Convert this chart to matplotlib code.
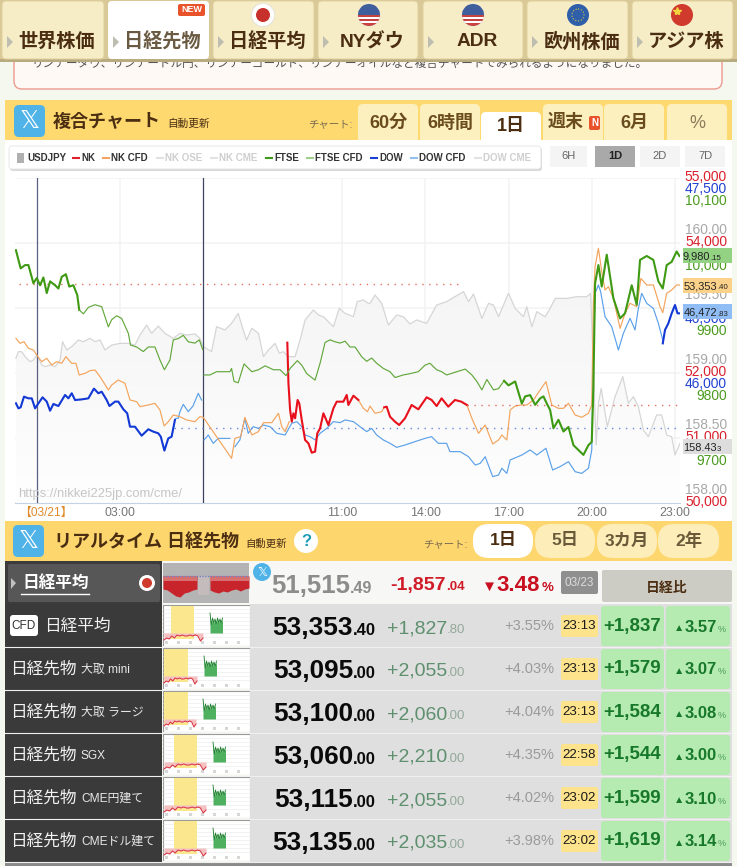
# plot.py - composite market chart page (nikkei futures)

import numpy as np
import matplotlib
matplotlib.use("Agg")
import matplotlib.pyplot as plt
from matplotlib.patches import FancyBboxPatch, Rectangle, Circle, Polygon
from matplotlib.colors import LinearSegmentedColormap

plt.rcParams['font.family'] = ['Liberation Sans', 'Noto Sans CJK JP', 'DejaVu Sans']

W, H = 737, 866

# %%
# chart data, x is hours on the 03/21 session axis
usd_h = [-.75,-.66,-.54,-.42,-.24,-.12,0,.18,.30,.48,.66,.84,.93,1.08,1.26,1.50,1.68,1.92,2.10,2.28,2.46,2.70,3.0,3.30,3.54,3.72,3.96,4.14,4.38,4.62,4.92,5.16,5.40,5.70,5.88,6.0,6.30,6.48,6.78,7.02,7.26,7.44,7.56,7.75,7.99,8.17,8.35,8.59,8.74,8.89,9.07,9.31,9.49,9.67,9.97,10.15,10.33,10.69,10.90,11.11,11.41,11.55,11.77,11.95,12.01,12.19,12.43,12.67,12.97,13.21,13.45,13.69,14.05,14.41,14.77,15.07,15.38,15.56,15.74,16.04,16.28,16.46,16.64,17.0,17.24,17.54,17.66,17.84,18.02,18.32,18.50,18.68,19.10,19.46,19.82,19.96,20.06,20.16,20.24,20.34,20.56,20.84,21.12,21.32,21.50,21.68,21.86,22.04,22.34,22.52,22.70,22.88,23.0,23.18]
usd_v = [159.113,159.164,159.164,159.126,159.087,159.10,159.138,159.062,159.049,159.062,159.049,159.10,159.241,159.177,159.203,159.254,159.241,159.267,159.241,159.254,159.177,159.215,159.228,159.228,159.215,159.292,159.369,159.305,159.361,159.305,159.267,159.305,159.292,159.30,159.267,159.203,159.164,159.356,159.331,159.382,159.459,159.331,159.254,159.344,159.305,159.126,159.177,159.228,159.152,159.164,159.126,159.126,159.254,159.408,159.485,159.446,159.433,159.356,159.497,159.459,159.433,159.549,159.562,159.536,159.536,159.60,159.536,159.369,159.446,159.433,159.377,159.408,159.382,159.523,159.549,159.587,159.626,159.549,159.608,159.42,159.536,159.523,159.433,159.613,159.497,159.433,159.51,159.356,159.472,159.433,159.497,159.574,159.574,159.587,159.587,159.613,159.023,158.446,158.767,158.882,158.587,158.818,158.972,158.767,158.818,158.741,158.562,158.51,158.677,158.677,158.523,158.51,158.369,158.459]

ftse_a_h = [-.75,-.66,-.58,-.42,-.30,-.12,0,.12,.24,.36,.48,.66,.78,.90,1.05,1.17,1.32,1.46,1.53]
ftse_a_v = [9989,9974,9961,9966,9966,9938,9946,9935,9947,9923,9941,9935,9930,9948,9952,9933,9935,9920,9897]
ftse_b_h = [1.53,1.68,1.86,2.10,2.34,2.58,2.70,2.88,3.06,3.30,3.38,3.60,3.84,4.02,4.26,4.44,4.60,4.80,4.92,5.10,5.28,5.46,5.70,5.86,5.98]
ftse_b_v = [9897,9891,9901,9905,9902,9871,9882,9888,9884,9861,9843,9840,9833,9840,9840,9820,9805,9820,9851,9853,9858,9848,9846,9851,9836]
ftse_c_h = [6.03,6.24,6.48,6.96,7.02,7.11,7.26,7.47,7.75,7.99,8.23,8.53,8.77,8.98,9.13,9.39,9.55,9.73,10.03,10.21,10.39,10.57,10.75,10.93,11.11,11.29,11.47,11.71,11.89,12.07,12.25,12.49,12.73,12.91,13.21,13.45,13.75,13.99,14.17,14.41,14.59,14.77,15.14,15.44,15.68,15.86,16.04,16.22,16.46,16.64,16.84]
ftse_c_v = [9797,9797,9802,9802,9807,9787,9785,9814,9802,9805,9811,9805,9805,9796,9807,9819,9812,9799,9789,9815,9847,9851,9848,9846,9849,9840,9840,9825,9818,9823,9815,9807,9802,9793,9797,9799,9802,9812,9815,9805,9802,9797,9802,9806,9797,9787,9774,9790,9774,9776,9788]
ftse_d_h = [16.84,17.0,17.24,17.48,17.60,17.78,17.96,18.14,18.26,18.38,18.50,18.62,18.80,18.98,19.16,19.34,19.58,19.70,19.88,20.0,20.06,20.12,20.24,20.36,20.54,20.78,21.02,21.2,21.44,21.62,21.74,21.98,22.22,22.40,22.56,22.70,22.88,23.06,23.16]
ftse_d_v = [9788,9781,9787,9753,9764,9766,9751,9761,9764,9753,9743,9715,9728,9710,9717,9689,9679,9674,9689,9694,9779,9938,9966,9933,9982,9915,9884,9892,9935,9905,9974,9980,9974,9941,9930,9966,9971,9987,9980]

nk_cfd_a_h = [-.75,-.60,-.46,-.30,-.12,0,.18,.36,.54,.72,.90,1.05,1.26,1.41,1.53,1.74,1.92,2.10,2.28,2.58,2.70,2.94,3.18,3.36,3.60,3.72,4.02,4.26,4.44,4.59,4.74,4.92,5.16,5.40,5.70,5.88,6.0,7.02,7.14,7.35,7.50,7.75,7.99,8.17,8.47,8.71,8.83,8.95,9.10]
nk_cfd_a_v = [52533,52456,52482,52380,52354,52277,52174,52226,52123,52174,52149,52251,52149,52149,51969,51995,52036,52046,51944,51739,51815,51892,51841,51585,51559,51482,51508,51533,51431,51185,51251,51354,51328,51277,51251,51328,51318,50687,50995,51021,51318,51046,51098,51236,51236,51380,51174,51098,51251]
nk_cfd_b_h = [11.59,11.77,11.92,12.01,12.19,12.43,12.52]
nk_cfd_b_v = [51585,51456,51405,51492,51380,51405,51472]
nk_cfd_c_h = [15.5,15.68,15.92,16.16,16.43,16.64,16.76,16.94,17.06,17.24,17.48,17.66,17.90,18.14,18.35,18.56,18.80,18.98,19.16,19.40,19.64,19.88,20.0,20.06,20.12,20.24,20.36,20.48,20.60,20.78,21.02,21.2,21.38,21.62,21.77,21.98,22.22,22.46,22.56,22.70,22.88,23.06,23.18]
nk_cfd_c_v = [51508,51303,51072,51200,50908,50969,51046,50969,51431,51492,51508,51508,51585,51739,51867,51508,51456,51456,51533,51354,51318,51380,51508,53072,53636,53918,53559,53277,53328,53149,52687,52918,53072,53021,53456,53354,53354,53021,52928,53226,53277,53354,53354]

nk_a_h = [9.03,9.07,9.13,9.19,9.25,9.31,9.40,9.46,9.55,9.67,9.79,9.91,10.03,10.11,10.21,10.33,10.51,10.69,10.81,11.05,11.17,11.23,11.41,11.59]
nk_a_v = [52467,51841,51431,51251,51380,51303,51585,51533,51277,50969,50918,50774,50790,51072,51149,51380,51200,51456,51559,51559,51662,51508,51651,51585]
nk_b_h = [12.52,12.61,12.73,12.91,13.06,13.27,13.51,13.75,14.05,14.23,14.41,14.59,14.83,15.07,15.30,15.5]
nk_b_v = [51472,51482,51328,51251,51200,51303,51508,51441,51626,51585,51492,51610,51482,51585,51559,51508]

dow_a_h = [-.75,-.66,-.58,-.46,-.30,-.18,-.06,.06,.21,.36,.48,.60,.78,1.02,1.14,1.26,1.38,1.62,1.86,2.06,2.22,2.34,2.52,2.62,2.82,2.94,3.12,3.26,3.36,3.54,3.78,4.02,4.20,4.38,4.47,4.60,4.74,4.86,4.98]
dow_a_v = [45767,45728,45736,45818,45805,45805,45728,45767,45813,45780,45710,45762,45746,45831,45805,45844,45792,45797,45805,45880,45844,45856,45792,45746,45780,45780,45721,45690,45587,45587,45518,45567,45549,45536,45510,45403,45497,45510,45639]
dow_b_h = [22.56,22.64,22.76,22.88,23.0,23.09,23.18]
dow_b_v = [46228,46331,46382,46459,46523,46459,46459]
dow_cfd_a_h = [5.01,5.10,5.16,5.28,5.46,5.63,5.82,5.94]
dow_cfd_a_v = [45651,45651,45703,45759,45703,45746,45844,45792]
dow_cfd_b_h = [6.03,6.18,6.36,6.54,6.78,6.96]
dow_cfd_b_v = [45485,45523,45459,45497,45497,45497]
dow_cfd_c_h = [7.14,7.32,7.50,7.62,7.80,7.99,8.17,8.41,8.65,8.95,9.19,9.37,9.55,9.67,9.85,10.03,10.21,10.45,10.69,10.93,11.11,11.41,11.65,11.89,12.07,12.25,12.49,12.73,12.97,13.27,13.63,13.99,14.23,14.47,14.77,14.89,15.26,15.56,15.80,15.98,16.16,16.43,16.64,16.76,16.94,17.06,17.48,17.78,18.02,18.35,18.59,18.86,19.16,19.40,19.64,19.88,20.0,20.06,20.12,20.24,20.32,20.48,20.72,20.96,21.14,21.38,21.56,21.68,21.80,21.98,22.22,22.40,22.56]
dow_cfd_c_v = [45433,45485,45651,45536,45587,45574,45600,45587,45536,45523,45613,45626,45587,45523,45510,45485,45536,45574,45626,45618,45639,45626,45587,45549,45574,45523,45485,45459,45428,45446,45472,45497,45510,45459,45459,45395,45395,45356,45292,45305,45356,45203,45215,45267,45228,45331,45369,45408,45369,45421,45254,45280,45318,45241,45228,45267,45408,46126,46613,46677,46626,46433,46356,46177,46305,46421,46331,46497,46613,46536,46497,46382,46254]

nk_ref = 53374
nk_close = 51515
dow_close = 45580

usd_ticks = [158.0, 158.5, 159.0, 159.5, 160.0]
nk_ticks = [50000, 51000, 52000, 54000, 55000]
dow_ticks = [46000, 46500, 47500]
ftse_ticks = [9700, 9800, 9900, 10000, 10100]
hour_ticks = [3, 11, 14, 17, 20, 23]
hour_labels = ["03:00", "11:00", "14:00", "17:00", "20:00", "23:00"]

# table data
row_names = ["日経平均", "日経先物", "日経先物", "日経先物", "日経先物", "日経先物"]
row_subs = ["", "大取 mini", "大取 ラージ", "SGX", "CME円建て", "CMEドル建て"]
row_price = ["53,353", "53,095", "53,100", "53,060", "53,115", "53,135"]
row_price_dec = [".40", ".00", ".00", ".00", ".00", ".00"]
row_chg = ["+1,827", "+2,055", "+2,060", "+2,210", "+2,055", "+2,035"]
row_chg_dec = [".80", ".00", ".00", ".00", ".00", ".00"]
row_pct = ["+3.55%", "+4.03%", "+4.04%", "+4.35%", "+4.02%", "+3.98%"]
row_time = ["23:13", "23:13", "23:13", "22:58", "23:02", "23:02"]
row_diff = ["+1,837", "+1,579", "+1,584", "+1,544", "+1,599", "+1,619"]
row_diff_pct = ["3.57", "3.07", "3.08", "3.00", "3.10", "3.14"]

mini_red = [35, 33, 34, 31, 33, 30, 31, 30, 31, 31, 30, 31, 30, 31, 36, 33]
mini_green = [8, 20, 13, 18, 14, 19, 13, 18, 14, 18, 13]
mini_nikkei = [26, 27, 30, 33, 34, 30, 29, 27, 26]
mini_nikkei2 = [27, 29, 30, 28, 29, 27, 26, 28, 26, 25]
mini_band = [(8, 31), (1, 25), (1, 25), (11, 34), (11, 34), (11, 34)]
mini_spike = [47, 41, 40, 50, 50, 50]

# %%
fig = plt.figure(figsize=(W / 100, H / 100), dpi=100)
fig.patch.set_facecolor("#f5f8ef")

bg = fig.add_axes([0, 0, 1, 1], zorder=0)
bg.set_xlim(0, W); bg.set_ylim(H, 0); bg.axis("off")

top = fig.add_axes([0, 0, 1, 1], zorder=10)
top.set_xlim(0, W); top.set_ylim(H, 0); top.axis("off")
top.patch.set_alpha(0)

def box(x0, y0, x1, y1, fc, r=0, ec="none", lw=0, z=1, ax=None):
    ax = ax or bg
    if r:
        p = FancyBboxPatch((x0, y0), x1 - x0, y1 - y0, boxstyle=f"round,pad=0,rounding_size={r}",
                           fc=fc, ec=ec, lw=lw, zorder=z)
    else:
        p = Rectangle((x0, y0), x1 - x0, y1 - y0, fc=fc, ec=ec, lw=lw, zorder=z)
    ax.add_patch(p)
    return p

def txt(x, y, s, size, color, ha="left", va="center", weight="normal", z=3, ax=None, **kw):
    ax = ax or bg
    return ax.text(x, y, s, fontsize=size, color=color, ha=ha, va=va, fontweight=weight, zorder=z, **kw)

def num(x, y, big, dec, s1, s2, color, color2=None, weight="normal", z=3, ax=None):
    txt(x, y, big, s1, color, ha="right", va="baseline", weight=weight, z=z, ax=ax)
    txt(x, y, dec, s2, color2 or color, ha="left", va="baseline", weight=weight, z=z, ax=ax)

def x_icon(x0, y0, x1, y1):
    box(x0, y0, x1, y1, "#4fb3e8", r=5, z=4)
    txt((x0 + x1) / 2, (y0 + y1) / 2, "𝕏", 18, "white", ha="center", z=5, family="DejaVu Sans")

BROWN = "#4b2e12"

# %%
# page behind the nav
box(14, 40, 722, 89, "#fff9f6", r=8, ec="#eb9a8e", lw=1, z=1)
txt(31, 64, "リンデーダウ、リンデードル円、リンデーゴールド、リンデーオイルなど複合チャートでみられるようになりました。",
    8.4, "#555555", z=2)

# nav
box(0, 0, W, 61, "#d9c998", z=5)
box(0, 59, W, 62, "#b9ab80", z=5)
tabs = [(2, 104), (108, 209), (213, 314), (318, 418), (423, 523), (527, 628), (632, 733)]
tab_text = ["世界株価", "日経先物", "日経平均", "NYダウ", "ADR", "欧州株価", "アジア株"]
for i, (a, b) in enumerate(tabs):
    active = i == 1
    box(a, 1, b, 59, "white" if active else "#f6ecc6", r=4, ec="none" if active else "#e0d09c", lw=.7, z=6)
    bg.add_patch(Polygon([(a + 5, 36), (a + 11, 42), (a + 5, 48)], fc="#bdbdb0", ec="none", zorder=7))
    mid = (a + b) / 2 + 4
    txt(mid, 42, tab_text[i], 13.8, "#6a5a42" if active else BROWN, ha="center", weight="bold", z=7)

box(178, 4, 205, 16, "#e8532b", r=2, z=8)
txt(191.5, 10, "NEW", 6.5, "white", ha="center", weight="bold", z=9)

def flag_us(cx, cy, r=11):
    c = Circle((cx, cy), r, fc="white", ec="#ddd", lw=.5, zorder=7)
    bg.add_patch(c)
    for k in range(5):
        s = Rectangle((cx - r, cy - r + 1 + k * 4.6), 2 * r, 2.4, fc="#c8433f", zorder=8)
        bg.add_patch(s)
        s.set_clip_path(c)
    s = Rectangle((cx - r, cy - r), 2 * r, r, fc="#3f5f9c", zorder=9)
    bg.add_patch(s)
    s.set_clip_path(c)

bg.add_patch(Circle((263, 15), 11.5, fc="white", ec="#ddd", lw=.5, zorder=7))
bg.add_patch(Circle((263, 15), 7, fc="#c8302c", zorder=8))
flag_us(369, 15)
flag_us(473, 15)
bg.add_patch(Circle((578, 15), 11, fc="#2f5fa8", zorder=7))
bg.add_patch(Circle((578, 15), 6, fc="none", ec="#d8c84a", lw=.8, ls=":", zorder=8))
bg.add_patch(Circle((682, 15), 11, fc="#cf3a2c", zorder=7))
bg.plot([677], [11], marker="*", ms=6, color="#f5d33c", zorder=8)

# %%
# chart panel
box(5, 100, 732, 140, "#fdd970", z=1)
box(5, 140, 732, 521, "white", z=1)
x_icon(14, 105, 45, 137)
txt(53, 122, "複合チャート", 13, BROWN, weight="bold")
txt(167, 124, "自動更新", 7.7, BROWN)
txt(308, 124, "チャート:", 7.5, "#7a6a50")
ctabs = [(358, 418, "60分"), (420, 480, "6時間"), (481, 541, "1日"), (543, 603, "週末"), (604, 664, "6月"), (667, 727, "%")]
for a, b, s in ctabs:
    act = s == "1日"
    box(a, 112 if act else 104, b, 145, "white" if act else "#fdf0bf", r=5, z=2)
    box(a, 140, b, 146, "white", z=2)
    box(a, 132, b, 140, "white" if act else "#fdf0bf", z=2)
    if s == "週末":
        txt(548, 122, s, 13, "#6a4c1e", weight="bold")
        box(589, 116, 600, 130, "#e8532b", r=2, z=4)
        txt(594.5, 123, "N", 7, "white", ha="center", weight="bold", z=5)
    else:
        txt((a + b) / 2, 126 if act else 123, s, 13, BROWN if act else "#6a4c1e" if s != "%" else "#8a7a5a",
            ha="center", weight="bold" if s != "%" else "normal")

box(10, 148, 542, 171, "#d8d8d8", r=3, z=2)
box(9, 146, 541, 169, "white", r=3, ec="#e4e4e4", lw=.6, z=2)
box(17, 153, 24, 163, "#b0b0b0", z=3)
legend = [(27, None, "USDJPY", "#333333"), (81, "#e0202c", "NK", "#333333"), (111, "#f4a460", "NK CFD", "#333333"),
          (165, "#e2e2e2", "NK OSE", "#cfcfcf"), (219, "#e2e2e2", "NK CME", "#cfcfcf"), (274, "#3d9a18", "FTSE", "#333333"),
          (315, "#9ccf8a", "FTSE CFD", "#333333"), (379, "#1c3fd6", "DOW", "#333333"), (419, "#93c0ec", "DOW CFD", "#333333"),
          (483, "#e2e2e2", "DOW CME", "#cfcfcf")]
for x, col, s, tc in legend:
    if col:
        bg.plot([x - 9, x - 1], [158, 158], color=col, lw=1.5, zorder=3, solid_capstyle="butt")
    txt(x, 158, s, 7, tc, weight="bold")

for a, b, s in [(550, 587, "6H"), (595, 635, "1D"), (640, 680, "2D"), (685, 725, "7D")]:
    on = s == "1D"
    box(a, 146, b, 167, "#a9a9a9" if on else "#f4f4f4", z=2)
    txt((a + b) / 2, 156, s, 8, "#222222" if on else "#666666", ha="center", weight="bold" if on else "normal")

# %%
# main chart, four scales on one plot area
L, R, T, B = 15, 680, 178, 503
rect = [L / W, 1 - B / H, (R - L) / W, (B - T) / H]
h_min, h_max = 3 + (L - 120) / 27.75, 3 + (R - 120) / 27.75

ax_usd = fig.add_axes(rect, zorder=1)
ax_dow = fig.add_axes(rect, zorder=2)
ax_nk = fig.add_axes(rect, zorder=3)
ax_ftse = fig.add_axes(rect, zorder=4)
limits = {ax_usd: (158, 160.5), ax_dow: (45000, 47500), ax_nk: (50000, 55000), ax_ftse: (9600, 10100)}
for a, lim in limits.items():
    a.set_xlim(h_min, h_max)
    a.set_ylim(*lim)
    a.patch.set_alpha(0)
    if a is not ax_usd:
        a.axis("off")

ax_usd.set_xticks(hour_ticks)
ax_usd.set_xticklabels(hour_labels, fontsize=8.9, color="#777777")
ax_usd.tick_params(axis="x", length=0, pad=3)
ax_usd.set_yticks(np.arange(158, 160.6, 0.5))
ax_usd.tick_params(axis="y", length=0, labelleft=False)
ax_usd.grid(True, color="#f2f2f2", lw=1.1)
ax_usd.set_axisbelow(True)
for s, sp in ax_usd.spines.items():
    sp.set_visible(s == "bottom")
ax_usd.spines["bottom"].set_color("#c3d3e3")

# usd area with a top down gradient, clipped to the area under the line
cm = LinearSegmentedColormap.from_list("fade", ["#fefefe", "#f7f7f7", "#f2f2f2"])
poly = ax_usd.fill_between(usd_h, usd_v, 158, color="none")
grad = np.linspace(1, 0, 128).reshape(-1, 1)
im = ax_usd.imshow(grad, extent=[h_min, h_max, 158, 160.5], aspect="auto", cmap=cm, zorder=1)
im.set_clip_path(poly.get_paths()[0], transform=ax_usd.transData)
ax_usd.set_xlim(h_min, h_max); ax_usd.set_ylim(158, 160.5)
ax_usd.plot(usd_h, usd_v, color="#d6d6d6", lw=.9, zorder=2)

ax_usd.axvline(0, color="#5a6080", lw=.9, zorder=3)
ax_usd.axvline(6, color="#3e4460", lw=.9, zorder=3)

THIN, THICK = .85, 1.5
for xs, ys in [(dow_cfd_a_h, dow_cfd_a_v), (dow_cfd_b_h, dow_cfd_b_v), (dow_cfd_c_h, dow_cfd_c_v)]:
    ax_dow.plot(xs, ys, color="#5ba1ea", lw=THIN)
ax_dow.plot(dow_a_h, dow_a_v, color="#1238d6", lw=THICK)
ax_dow.plot(dow_b_h, dow_b_v, color="#1238d6", lw=THICK)
ax_dow.plot([4.95, 23.2], [dow_close, dow_close], color="#6a86dc", lw=1, ls=(0, (1, 4)))

for xs, ys in [(nk_cfd_a_h, nk_cfd_a_v), (nk_cfd_b_h, nk_cfd_b_v), (nk_cfd_c_h, nk_cfd_c_v)]:
    ax_nk.plot(xs, ys, color="#f3a45c", lw=THIN)
ax_nk.plot(nk_a_h, nk_a_v, color="#e8101c", lw=THICK)
ax_nk.plot(nk_b_h, nk_b_v, color="#e8101c", lw=THICK)
ax_nk.plot([-.65, 15.35], [nk_ref, nk_ref], color="#e2705c", lw=1, ls=(0, (1, 4)))
ax_nk.plot([15.5, 23.15], [nk_close, nk_close], color="#e2705c", lw=1, ls=(0, (1, 4)))

ax_ftse.plot(ftse_a_h, ftse_a_v, color="#3d9a12", lw=THICK)
ax_ftse.plot(ftse_b_h, ftse_b_v, color="#62a83c", lw=THIN)
ax_ftse.plot(ftse_c_h, ftse_c_v, color="#62a83c", lw=THIN)
ax_ftse.plot(ftse_d_h, ftse_d_v, color="#3d9a12", lw=THICK)

ax_usd.text(h_min + .1, 158.07, "https://nikkei225jp.com/cme/", fontsize=9.4, color="#c6c6c6", zorder=5, va="center")
ax_usd.annotate("【03/21】", xy=(0.32, 158), xytext=(0, -10), textcoords="offset pixels", fontsize=8.6,
                color="#e08a2a", ha="center", va="center", annotation_clip=False)

# right side scales, each axis sits at its own offset from the gridline
for a, ticks, fmt, col, off in [(ax_usd, usd_ticks, "{:.2f}", "#a8a8a8", 13), (ax_nk, nk_ticks, "{:,}", "#d8202c", 1),
                                (ax_dow, dow_ticks, "{:,}", "#2040d0", -11), (ax_ftse, ftse_ticks, None, "#4b9b1e", -23)]:
    for t in ticks:
        s = fmt.format(t) if fmt else (f"{t:,}" if t >= 10000 else str(t))
        a.annotate(s, xy=(1, t), xycoords=a.get_yaxis_transform(), xytext=(47, off), textcoords="offset pixels",
                   fontsize=9.9, color=col, ha="right", va="center", annotation_clip=False)

def val_y(v, lo, hi):
    return B - (v - lo) / (hi - lo) * (B - T)

badges = [(9980.15, 9600, 10100, "9,980", ".15", 710, "#93d183"), (53353.40, 50000, 55000, "53,353", ".40", 717, "#fcd28a"),
          (46472.83, 45000, 47500, "46,472", ".83", 717, "#90bdf5"), (158.433, 158, 160.5, "158.43", "3", 717, "#dddddd")]
for v, lo, hi, a, b, xe, col in badges:
    yy = val_y(v, lo, hi)
    box(683, yy - 7.5, 732, yy + 7.5, col, ax=top, z=1)
    num(xe, yy + 4, a, b, 7.9, 5.6, "#222222", ax=top, z=2)

# %%
# realtime header
box(5, 521, 732, 561, "#fdd66e", z=1)
x_icon(13, 525, 44, 557)
txt(54, 542, "リアルタイム 日経先物", 13, BROWN, weight="bold")
txt(245, 544, "自動更新", 7.5, BROWN)
bg.add_patch(Circle((306, 541), 12, fc="white", zorder=3))
txt(306, 541, "?", 12, "#1c9cb8", ha="center", weight="bold", z=4)
txt(423, 544, "チャート:", 7.5, "#7a6a50")
for a, b, s in [(473, 533, "1日"), (535, 595, "5日"), (597, 657, "3カ月"), (658, 719, "2年")]:
    box(a, 524, b, 558, "white" if s == "1日" else "#fdedb9", r=16, z=2)
    txt((a + b) / 2, 541, s, 12.5, BROWN if s == "1日" else "#6a5a3a", ha="center", weight="bold", z=3)

# %%
# table, first row
box(5, 561, 732, 604, "#f7f7f5", z=1)
box(5, 561, 162, 604, "#3c3c3c", z=2)
box(8, 564, 160, 602, "#575757", r=2, z=3)
bg.add_patch(Polygon([(11, 578), (16, 583), (11, 589)], fc="#c0c0c0", zorder=4))
txt(22, 583, "日経平均", 12, "white", weight="bold", z=4)
bg.plot([21, 89], [594, 594], color="white", lw=1, zorder=4)
bg.add_patch(Circle((147, 583), 8, fc="white", zorder=4))
bg.add_patch(Circle((147, 583), 5, fc="#cf3a2c", zorder=5))

bg.add_patch(Circle((262, 572), 9, fc="#4fb3e8", zorder=5))
txt(262, 572, "𝕏", 9, "white", ha="center", z=6, family="DejaVu Sans")
num(350, 593, "51,515", ".49", 18.5, 11.5, "#8c8c8c", weight="bold")
num(446, 590, "-1,857", ".04", 14, 9.5, "#d01c28", weight="bold")
txt(482, 591, "▼", 11, "#c81020", va="baseline", weight="bold")
txt(496, 591, "3.48", 16, "#c81020", va="baseline", weight="bold")
txt(542, 591, "%", 9.5, "#c81020", va="baseline", weight="bold")
box(561, 571, 598, 594, "#8f8f8f", r=2, z=2)
txt(579.5, 583, "03/23", 8.5, "#dcdcdc", ha="center")
box(602, 570, 732, 602, "#cdccc4", r=2, z=2)
txt(667, 588, "日経比", 10, BROWN, ha="center", weight="bold")

# thumb of row one
th = fig.add_axes([163 / W, 1 - 603 / H, 86 / W, 40 / H], zorder=5)
th.set_xlim(0, 86); th.set_ylim(40, 0); th.axis("off")
th.add_patch(Rectangle((0, 0), 86, 40, fc="#b4b4b4"))
th.add_patch(Rectangle((35, 13), 11, 19, fc="#c4bcbc"))
xs1 = np.linspace(0, 34, len(mini_nikkei))
xs2 = np.linspace(47, 86, len(mini_nikkei2))
th.fill_between(xs1, 13, mini_nikkei, color="#c8242c", lw=0)
th.fill_between(xs2, 13, mini_nikkei2, color="#c8242c", lw=0)
th.add_patch(Rectangle((0, 13), 34, 5, fc="#d87070", lw=0, zorder=3))
th.add_patch(Rectangle((47, 13), 39, 5, fc="#d87070", lw=0, zorder=3))
th.plot([0, 86], [13, 13], color="#7080c0", lw=1, ls=(0, (1, 1)), zorder=4)

# other rows
row_tops = [604, 647, 690, 733, 776, 819]
for i, y0 in enumerate(row_tops):
    y1, c = y0 + 43, y0 + 22
    box(5, y0, 162, y1, "#3a3a3a", z=2)
    box(250, y0, 732, y1, "#dfdfdf", z=1)
    bg.plot([5, 732], [y1, y1], color="#f0f0f0", lw=.8, zorder=3)
    if i == 0:
        box(10, y0 + 11, 38, y0 + 32, "white", r=3, z=3)
        txt(24, c, "CFD", 8.5, "#333333", ha="center", z=4)
        txt(44, c, row_names[i], 12, "#f2f2f2", z=4)
    else:
        txt(10, c, row_names[i], 12, "#f2f2f2", z=4)
        txt(81, c + 1, row_subs[i], 8.6, "#e8e8e8", z=4)

    num(353, c + 9, row_price[i], row_price_dec[i], 18.8, 12, "#0a0a0a", weight="bold")
    num(447, c + 7, row_chg[i], row_chg_dec[i], 14, 9.5, "#5e8f6e", "#93a89a")
    txt(554, c, row_pct[i], 10.5, "#9a9a9a", ha="right")
    box(561, c - 11, 598, c + 11, "#fde38c", r=2, z=2)
    txt(579.5, c, row_time[i], 9.6, "#1a1a1a", ha="center")
    box(601, y0 + 2, 664, y1 - 1, "#b5ebb0", r=3, z=2)
    box(666, y0 + 2, 730, y1 - 1, "#b5ebb0", r=3, z=2)
    txt(632.5, c, row_diff[i], 13.5, "#17782a", ha="center", weight="bold")
    txt(674, c + 5, "▲", 7.5, "#17782a", va="baseline")
    txt(685, c + 5.5, row_diff_pct[i], 12, "#17782a", va="baseline", weight="bold")
    txt(717.5, c + 5.5, "%", 6.5, "#4a9a5a", va="baseline")

    # small thumbnail
    t = fig.add_axes([163 / W, 1 - (y1 - 1) / H, 87 / W, 41 / H], zorder=5)
    t.set_xlim(0, 87); t.set_ylim(41, 0); t.axis("off")
    t.add_patch(Rectangle((0, 0), 87, 41, fc="white", ec="#9a9a9a", lw=.8))
    for gy in range(4, 36, 4):
        t.plot([0, 87], [gy, gy], color="#e8e8e8", lw=.4)
    a, b = mini_band[i]
    t.add_patch(Rectangle((a, 1), b - a, 33, fc="#fbe88e", lw=0, zorder=2))
    sp = mini_spike[i]
    xr = np.linspace(1, sp - 7, len(mini_red))
    t.fill_between(xr, 28, mini_red, color="#f4c0c0", lw=0, zorder=3)
    t.plot(xr, mini_red, color="#d83040", lw=.7, zorder=4)
    xg = sp + np.arange(len(mini_green)) * 1.25
    t.fill_between(xg, 28, mini_green, color="#4fb060", lw=0, zorder=3)
    t.plot(xg, mini_green, color="#208030", lw=.6, zorder=4)
    for tx in range(4, 80, 12):
        t.text(tx, 38, "00", fontsize=2.6, color="#888888", ha="center", va="center", zorder=4)

box(5, 862, 732, 866, "#8a8a8a", z=1)

fig.savefig("out.png", dpi=100)
